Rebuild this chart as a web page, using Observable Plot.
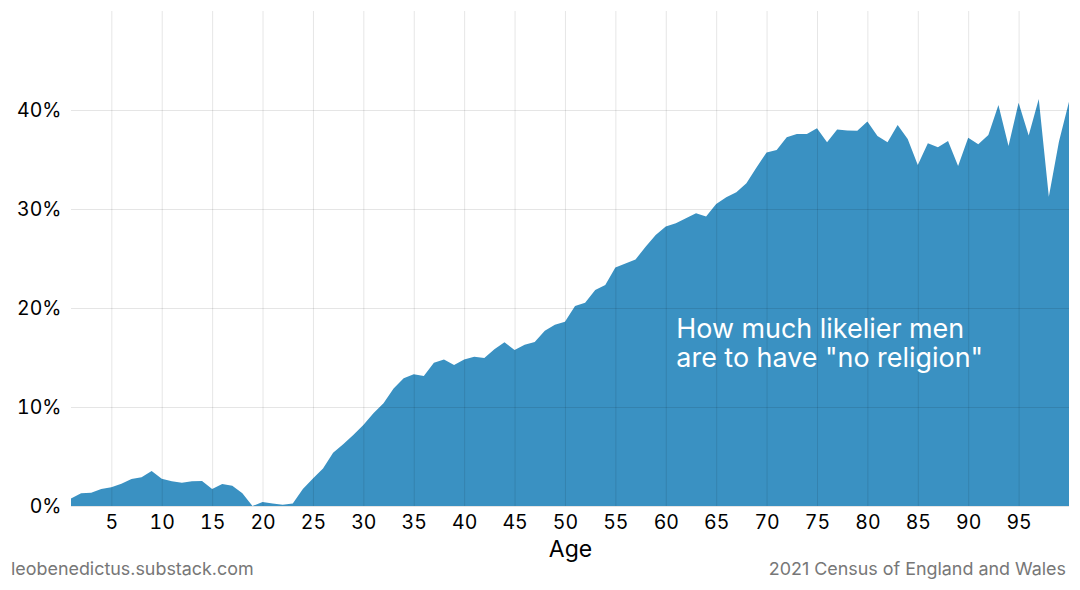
<!DOCTYPE html>
<html>
<head>
<meta charset="utf-8">
<script src="https://cdn.jsdelivr.net/npm/d3@7"></script>
<script src="https://cdn.jsdelivr.net/npm/@observablehq/plot@0.6"></script>
<style>
  html, body { margin: 0; padding: 0; background: #fff; }
  #chart svg { display: block; }
  .footer { display: flex; justify-content: space-between; padding: 0 14px 0 11px;
    font-family: Inter, sans-serif; font-size: 17.9px; color: #777; height: 28px; line-height: 14px; }
</style>
</head>
<body>
<div id="chart"></div>
<div class="footer"><span>leobenedictus.substack.com</span><span>2021 Census of England and Wales</span></div>
<script>
const ages = d3.range(1, 101);
const gap = [
  0.77, 1.28, 1.35, 1.72, 1.89, 2.25, 2.73, 2.9, 3.54, 2.76,
  2.49, 2.36, 2.49, 2.53, 1.72, 2.22, 2.05, 1.28, 0.0, 0.4,
  0.24, 0.13, 0.24, 1.72, 2.79, 3.8, 5.39, 6.23, 7.17, 8.18,
  9.36, 10.37, 11.88, 12.9, 13.3, 13.13, 14.48, 14.81, 14.24, 14.81,
  15.08, 14.95, 15.83, 16.53, 15.76, 16.3, 16.57, 17.71, 18.32, 18.62,
  20.2, 20.54, 21.82, 22.32, 24.1, 24.5, 24.9, 26.19, 27.37, 28.22,
  28.55, 29.06, 29.56, 29.23, 30.5, 31.18, 31.68, 32.59, 34.2, 35.7,
  35.96, 37.24, 37.58, 37.58, 38.15, 36.73, 38.04, 37.94, 37.9, 38.85,
  37.37, 36.73, 38.48, 37.07, 34.44, 36.63, 36.23, 36.87, 34.34, 37.2,
  36.53, 37.47, 40.5, 36.36, 40.74, 37.42, 41.11, 31.24, 36.8, 40.84
];
const xTicks = [5, 10, 15, 20, 25, 30, 35, 40, 45, 50, 55, 60, 65, 70, 75, 80, 85, 90, 95];
const yTicks = [0, 10, 20, 30, 40];
const annotation = "How much likelier men\nare to have \"no religion\"";
const xLabel = "Age";

const data = ages.map((a, i) => ({age: a, value: gap[i]}));

const chart = Plot.plot({
  width: 1080,
  height: 562,
  marginTop: 11,
  marginBottom: 56,
  marginLeft: 71,
  marginRight: 11,
  style: {fontFamily: "Inter, sans-serif", fontSize: "19.5px", color: "#000", background: "#fff"},
  x: {domain: [1, 100]},
  y: {domain: [0, 50]},
  marks: [
    Plot.areaY(data, {x: "age", y: "value", fill: "#3a91c2"}),
    Plot.gridX(xTicks, {stroke: "#000", strokeOpacity: 0.1, strokeWidth: 1}),
    Plot.gridY(yTicks, {stroke: "#000", strokeOpacity: 0.1, strokeWidth: 1}),
    Plot.axisX(xTicks, {tickSize: 0, tickPadding: 9, label: null, fontSize: 19.5}),
    Plot.axisY(yTicks, {tickSize: 0, tickPadding: 10, label: null, fontSize: 19.5, tickFormat: d => d + "%"}),
    Plot.text([xLabel], {frameAnchor: "bottom", dy: 50.5, lineAnchor: "bottom", fontSize: 23, fill: "#000"}),
    Plot.text([annotation], {x: 61, y: 14.07, textAnchor: "start", lineAnchor: "bottom", fontSize: 26.9, fill: "#fff", lineHeight: 1.1})
  ]
});
document.getElementById("chart").appendChild(chart);
</script>
</body>
</html>
